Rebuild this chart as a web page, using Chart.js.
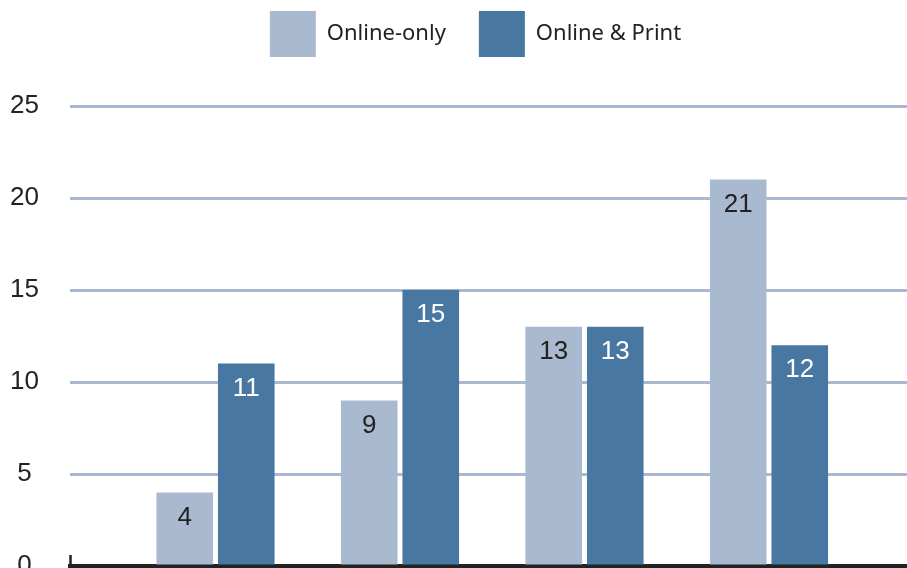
<!DOCTYPE html>
<html>
<head>
<meta charset="utf-8">
<script src="https://cdn.jsdelivr.net/npm/chart.js@4"></script>
<style>
  html, body { margin: 0; padding: 0; background: #fff; }
  #wrap { width: 907px; height: 568px; }
</style>
</head>
<body>
<div id="wrap"><canvas id="grafico"></canvas></div>
<script>
// datos
const categorias = [1, 2, 3, 4];
const onlineOnly = [4, 9, 13, 21];
const onlinePrint = [11, 15, 13, 12];
const ticksY = [0, 5, 10, 15, 20, 25];

const colorClaro = '#a9bad0';
const colorOscuro = '#4878a2';

// etiquetas dentro de las barras
const etiquetas = {
  id: 'etiquetas',
  afterDatasetsDraw(chart) {
    const ctx = chart.ctx;
    const colores = ['#222', '#fff'];
    ctx.save();
    ctx.font = '26px "Liberation Sans"';
    ctx.textAlign = 'center';
    ctx.textBaseline = 'middle';
    chart.data.datasets.forEach((ds, i) => {
      const meta = chart.getDatasetMeta(i);
      ctx.fillStyle = colores[i];
      meta.data.forEach((bar, j) => {
        ctx.fillText(ds.data[j], bar.x, bar.y + 25);
      });
    });
    ctx.restore();
  }
};

// marquita vertical al inicio del eje x
const marcaEje = {
  id: 'marcaEje',
  afterDraw(chart) {
    const ctx = chart.ctx;
    const a = chart.chartArea;
    ctx.save();
    ctx.strokeStyle = '#222';
    ctx.lineWidth = 2.5;
    ctx.beginPath();
    ctx.moveTo(a.left + 0.5, a.bottom - 11);
    ctx.lineTo(a.left + 0.5, a.bottom);
    ctx.stroke();
    ctx.restore();
  }
};

// leyenda: menos espacio arriba, un poco a la derecha
const ajusteLeyenda = {
  id: 'ajusteLeyenda',
  beforeInit(chart) {
    const fitOriginal = chart.legend.fit;
    chart.legend.fit = function () {
      fitOriginal.bind(chart.legend)();
      this.height += 17;
    };
  },
  afterLayout(chart) {
    chart.legend.left += 44;
    chart.legend.top -= 22;
  }
};

new Chart(document.getElementById('grafico').getContext('2d'), {
  type: 'bar',
  data: {
    labels: categorias,
    datasets: [{
      label: 'Online-only',
      data: onlineOnly,
      backgroundColor: colorClaro,
      categoryPercentage: 0.667,
      barPercentage: 0.92
    }, {
      label: 'Online & Print',
      data: onlinePrint,
      backgroundColor: colorOscuro,
      categoryPercentage: 0.667,
      barPercentage: 0.92
    }]
  },
  options: {
    responsive: true,
    maintainAspectRatio: false,
    animation: false,
    layout: { padding: 0 },
    plugins: {
      tooltip: { enabled: false },
      legend: {
        position: 'top',
        align: 'center',
        labels: {
          boxWidth: 46,
          boxHeight: 46,
          padding: 33,
          color: '#222',
          font: { family: '"Noto Sans"', size: 22 }
        }
      }
    },
    scales: {
      x: {
        type: 'linear',
        offset: false,
        min: 0.2114,
        max: 4.748,
        afterBuildTicks(scale) { scale.ticks = categorias.map(v => ({ value: v })); },
        afterFit(scale) { scale.height = 2; },
        grid: { display: false },
        border: { display: true, color: '#222', width: 5 },
        ticks: { display: false }
      },
      y: {
        min: 0,
        max: 25,
        afterFit(scale) {
          scale.width = 70;
          scale.paddingTop = 0;
          scale.paddingBottom = 0;
        },
        afterBuildTicks(scale) { scale.ticks = ticksY.map(v => ({ value: v })); },
        grid: { color: colorClaro, lineWidth: 3, drawTicks: false },
        border: { display: false },
        ticks: {
          crossAlign: 'center',
          padding: 31,
          color: '#222',
          font: { family: '"Liberation Sans"', size: 26 }
        }
      }
    }
  },
  plugins: [etiquetas, marcaEje, ajusteLeyenda]
});
</script>
</body>
</html>
